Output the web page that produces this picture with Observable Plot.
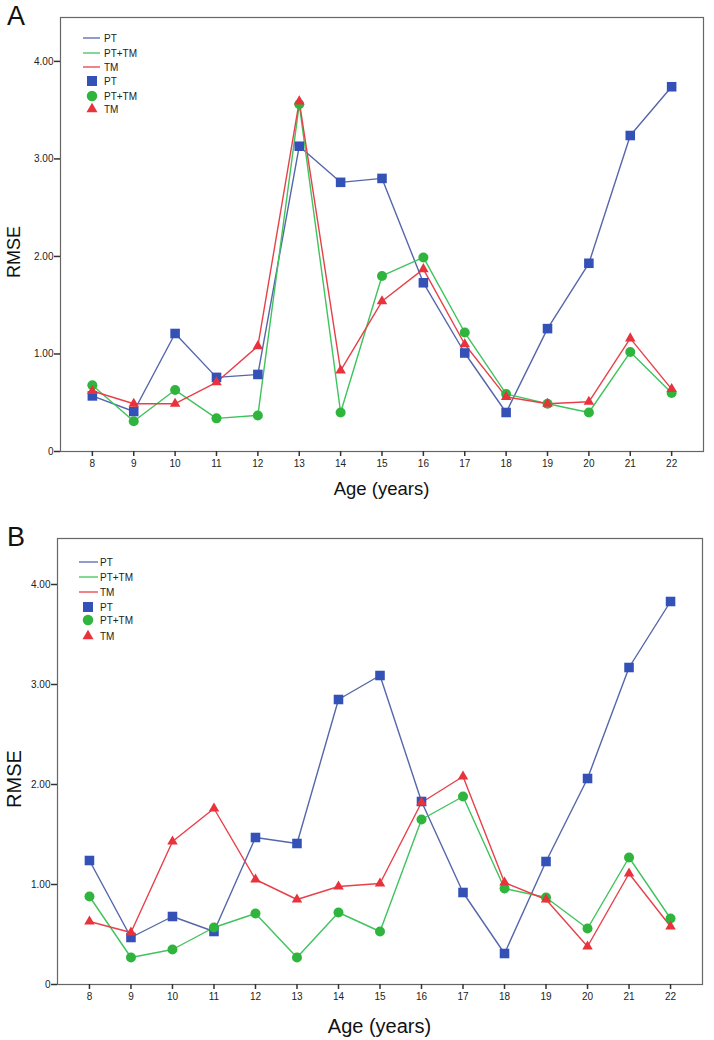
<!DOCTYPE html>
<html>
<head>
<meta charset="utf-8">
<script src="https://cdn.jsdelivr.net/npm/d3@7"></script>
<script src="https://cdn.jsdelivr.net/npm/@observablehq/plot@0.6"></script>
<style>
  html, body { margin: 0; padding: 0; background: #fff; }
  body { font-family: "Liberation Sans", Arial, sans-serif; }
  #wrap { position: relative; width: 714px; height: 1040px; overflow: hidden; }
  .panel { position: absolute; left: 0; width: 714px; height: 520px; }
  .panel svg.plot { position: absolute; left: 0; top: 0; }
  .letter { position: absolute; font-size: 27px; color: #111; line-height: 1; }
  .xtitle { position: absolute; color: #111; transform: translateX(-50%); white-space: nowrap; line-height: 1; }
  .ytitle { position: absolute; color: #111; transform: translate(-50%, -50%) rotate(-90deg); white-space: nowrap; line-height: 1; }
  .legend { position: absolute; }
</style>
</head>
<body>
<div id="wrap"></div>
<script>
const ages = [8, 9, 10, 11, 12, 13, 14, 15, 16, 17, 18, 19, 20, 21, 22];
const seriesNames = ["PT", "PT+TM", "TM"];
const yTicks = [0, 1, 2, 3, 4];
const yTickLabels = ["0", "1.00", "2.00", "3.00", "4.00"];

const A_PT   = [0.57, 0.41, 1.21, 0.76, 0.79, 3.13, 2.76, 2.80, 1.73, 1.01, 0.40, 1.26, 1.93, 3.24, 3.74];
const A_PTTM = [0.68, 0.31, 0.63, 0.34, 0.37, 3.56, 0.40, 1.80, 1.99, 1.22, 0.59, 0.49, 0.40, 1.02, 0.60];
const A_TM   = [0.62, 0.49, 0.49, 0.71, 1.08, 3.59, 0.83, 1.54, 1.87, 1.10, 0.56, 0.49, 0.51, 1.16, 0.64];

const B_PT   = [1.24, 0.47, 0.68, 0.53, 1.47, 1.41, 2.85, 3.09, 1.83, 0.92, 0.31, 1.23, 2.06, 3.17, 3.83];
const B_PTTM = [0.88, 0.27, 0.35, 0.57, 0.71, 0.27, 0.72, 0.53, 1.65, 1.88, 0.96, 0.87, 0.56, 1.27, 0.66];
const B_TM   = [0.63, 0.52, 1.43, 1.76, 1.05, 0.85, 0.98, 1.01, 1.82, 2.08, 1.02, 0.85, 0.38, 1.11, 0.58];

const lineColors = {"PT": "#5566aa", "PT+TM": "#3fc35c", "TM": "#e8404a"};
const dotColors  = {"PT": "#3451b8", "PT+TM": "#2fb53e", "TM": "#e8323c"};
const symbols    = {"PT": "square", "PT+TM": "circle", "TM": "triangle"};
const radii      = {"PT": 5.4, "PT+TM": 5.0, "TM": 3.9};

function toRows(pt, pttm, tm) {
  const rows = [];
  const all = {"PT": pt, "PT+TM": pttm, "TM": tm};
  for (const s of seriesNames) ages.forEach((a, i) => rows.push({series: s, age: a, rmse: all[s][i]}));
  return rows;
}

function makePanel(cfg) {
  const rows = toRows(cfg.pt, cfg.pttm, cfg.tm);
  const marks = [
    Plot.frame({stroke: "#666", strokeWidth: 1.2}),
    Plot.axisY({ticks: yTicks, tickFormat: d => yTickLabels[yTicks.indexOf(d)], tickSize: 6, tickPadding: 1, fontSize: 10, line: true, stroke: "#333", strokeWidth: 1.5, label: null}),
    Plot.axisX({ticks: ages, tickFormat: d => String(d), tickSize: 5, tickPadding: 3, fontSize: 10, line: true, stroke: "#333", strokeWidth: 1.5, label: null}),
  ];
  for (const s of seriesNames) {
    marks.push(Plot.line(rows.filter(r => r.series === s), {x: "age", y: "rmse", stroke: lineColors[s], strokeWidth: 1.4}));
  }
  for (const s of seriesNames) {
    marks.push(Plot.dot(rows.filter(r => r.series === s), {x: "age", y: "rmse", symbol: symbols[s], r: radii[s], fill: dotColors[s], stroke: "none"}));
  }
  const svg = Plot.plot({
    width: 714,
    height: 520,
    marginLeft: cfg.ml, marginRight: cfg.mr, marginTop: cfg.mt, marginBottom: cfg.mb,
    x: {domain: [7.23, 22.77]},
    y: {domain: [0, cfg.ymax]},
    style: {fontFamily: "'Liberation Sans', Arial, sans-serif", fontSize: "10px", color: "#222", background: "white"},
    marks
  });
  svg.classList.add("plot");
  return svg;
}

function legendSVG(cfg) {
  const ns = "http://www.w3.org/2000/svg";
  const svg = document.createElementNS(ns, "svg");
  const items = [];
  seriesNames.forEach(s => items.push({kind: "line", s}));
  seriesNames.forEach(s => items.push({kind: "sym", s}));
  items.forEach((it, i) => {
    const y = cfg.legendRows[i];
    if (it.kind === "line") {
      const l = document.createElementNS(ns, "line");
      l.setAttribute("x1", cfg.lx1); l.setAttribute("x2", cfg.lx2);
      l.setAttribute("y1", y); l.setAttribute("y2", y);
      l.setAttribute("stroke", lineColors[it.s]); l.setAttribute("stroke-width", 1.3);
      svg.appendChild(l);
    } else {
      const p = document.createElementNS(ns, "path");
      const sym = {"square": d3.symbolSquare, "circle": d3.symbolCircle, "triangle": d3.symbolTriangle}[symbols[it.s]];
      const r = radii[it.s] * 1.05;
      p.setAttribute("d", d3.symbol(sym, Math.PI * r * r)());
      p.setAttribute("transform", `translate(${cfg.sx},${y})`);
      p.setAttribute("fill", dotColors[it.s]);
      svg.appendChild(p);
    }
    const t = document.createElementNS(ns, "text");
    t.setAttribute("x", cfg.tx); t.setAttribute("y", y);
    t.setAttribute("dy", "0.35em");
    t.setAttribute("font-size", 10);
    t.setAttribute("font-family", "'Liberation Sans', Arial, sans-serif");
    t.setAttribute("fill", "#222");
    t.textContent = it.s;
    svg.appendChild(t);
  });
  return svg;
}

const panels = [
  {letter: "A", top: 0, pt: A_PT, pttm: A_PTTM, tm: A_TM, ymax: 4.45, ml: 60, mr: 11, mt: 17, mb: 69,
   letterTop: 3, letterLeft: 7, xtitleTop: 480, xtitleSize: 18.5, ytitleLeft: 14, ytitleTop: 252, ytitleSize: 18,
   legendRows: [38, 53, 67, 81, 96, 109], lx1: 83, lx2: 100, sx: 92, tx: 104},
  {letter: "B", top: 520, pt: B_PT, pttm: B_PTTM, tm: B_TM, ymax: 4.46, ml: 57, mr: 12, mt: 18, mb: 56,
   letterTop: 4, letterLeft: 7, xtitleTop: 496, xtitleSize: 20, ytitleLeft: 14, ytitleTop: 259, ytitleSize: 20,
   legendRows: [42, 57, 72, 87, 100, 116], lx1: 79, lx2: 98, sx: 88, tx: 100},
];

const wrap = document.getElementById("wrap");
for (const p of panels) {
  const div = document.createElement("div");
  div.className = "panel";
  div.style.top = p.top + "px";
  div.appendChild(makePanel(p));

  const leg = legendSVG(p);
  leg.setAttribute("class", "legend");
  leg.style.left = "0px"; leg.style.top = "0px";
  leg.setAttribute("width", 200); leg.setAttribute("height", 130);
  div.appendChild(leg);

  const letter = document.createElement("div");
  letter.className = "letter";
  letter.style.left = p.letterLeft + "px"; letter.style.top = p.letterTop + "px";
  letter.textContent = p.letter;
  div.appendChild(letter);

  const xt = document.createElement("div");
  xt.className = "xtitle";
  xt.style.fontSize = p.xtitleSize + "px";
  xt.style.left = ((p.ml + (714 - p.mr)) / 2) + "px";
  xt.style.top = p.xtitleTop + "px";
  xt.textContent = "Age (years)";
  div.appendChild(xt);

  const yt = document.createElement("div");
  yt.className = "ytitle";
  yt.style.fontSize = p.ytitleSize + "px";
  yt.style.left = p.ytitleLeft + "px";
  yt.style.top = p.ytitleTop + "px";
  yt.textContent = "RMSE";
  div.appendChild(yt);

  wrap.appendChild(div);
}
</script>
</body>
</html>
